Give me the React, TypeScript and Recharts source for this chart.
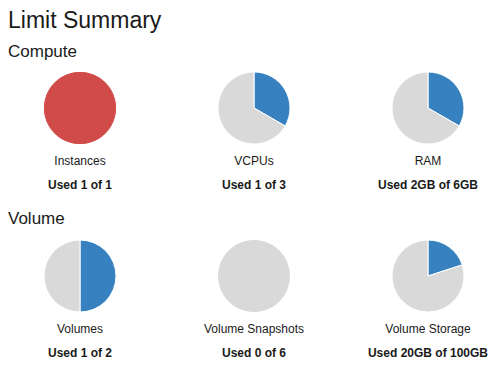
import React from 'react';
import { PieChart, Pie, Cell } from 'recharts';

// Data
const sections = ['Compute', 'Volume'];
const categories = ['Instances', 'VCPUs', 'RAM', 'Volumes', 'Volume Snapshots', 'Volume Storage'];
const usedValues = [1, 1, 2, 1, 0, 20];
const limitValues = [1, 3, 6, 2, 6, 100];
const units = ['', '', 'GB', '', '', 'GB'];

const COLORS = {
  used: '#3781c1',
  full: '#d24b4b',
  fullStroke: '#c43f3f',
  free: '#d9d9d9',
};

const FONT = '"Liberation Sans", Arial, Helvetica, sans-serif';
const COL_X = [80, 254, 428];
const ROW_Y = [108, 276];

function LimitPie({ index }: { index: number }) {
  const used = usedValues[index];
  const limit = limitValues[index];
  const isFull = used >= limit;
  const data = [
    { name: 'used', value: used, color: isFull ? COLORS.full : COLORS.used },
    { name: 'free', value: limit - used, color: COLORS.free },
  ].filter((d) => d.value > 0);
  const single = data.length === 1;

  return (
    <PieChart width={80} height={80} margin={{ top: 0, right: 0, bottom: 0, left: 0 }}>
      <Pie
        data={data}
        dataKey="value"
        cx={40}
        cy={40}
        outerRadius={36}
        startAngle={90}
        endAngle={-270}
        isAnimationActive={false}
        stroke={single ? 'none' : '#ffffff'}
        strokeWidth={1}
      >
        {data.map((d) => (
          <Cell key={d.name} fill={d.color} />
        ))}
      </Pie>
      {isFull && (
        <circle cx={40} cy={40} r={35.5} fill="none" stroke={COLORS.fullStroke} strokeWidth={1} />
      )}
    </PieChart>
  );
}

export default function App() {
  const unit = (i: number, v: number) => `${v}${units[i]}`;
  return (
    <div
      style={{
        position: 'absolute',
        left: 0,
        top: 0,
        width: 502,
        height: 374,
        background: '#fff',
        fontFamily: FONT,
        color: '#1a1a1a',
        overflow: 'hidden',
      }}
    >
      <div style={{ position: 'absolute', left: 8, top: 9, fontSize: 23, lineHeight: '23px' }}>
        Limit Summary
      </div>
      {sections.map((s, r) => (
        <div
          key={s}
          style={{ position: 'absolute', left: 8, top: r === 0 ? 43 : 210, fontSize: 17, lineHeight: '17px' }}
        >
          {s}
        </div>
      ))}
      {categories.map((c, i) => {
        const cx = COL_X[i % 3];
        const cy = ROW_Y[Math.floor(i / 3)];
        return (
          <React.Fragment key={c}>
            <div style={{ position: 'absolute', left: cx - 40, top: cy - 40 }}>
              <LimitPie index={i} />
            </div>
            <div
              style={{
                position: 'absolute',
                left: cx - 87,
                width: 174,
                top: cy + 46,
                fontSize: 12,
                lineHeight: '14px',
                textAlign: 'center',
              }}
            >
              {c}
            </div>
            <div
              style={{
                position: 'absolute',
                left: cx - 87,
                width: 174,
                top: cy + 70,
                fontSize: 12,
                lineHeight: '14px',
                fontWeight: 'bold',
                textAlign: 'center',
              }}
            >
              Used {unit(i, usedValues[i])} of {unit(i, limitValues[i])}
            </div>
          </React.Fragment>
        );
      })}
    </div>
  );
}
